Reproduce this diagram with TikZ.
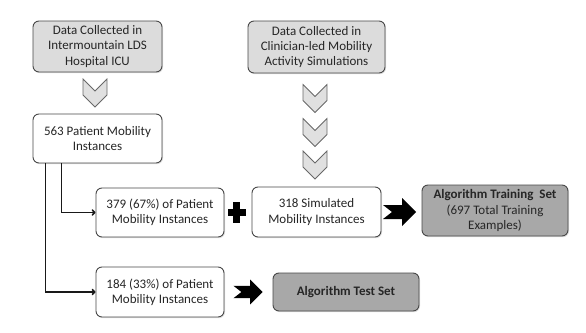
\documentclass[tikz,border=0pt]{standalone}
\usepackage{fontspec}
\setmainfont{Carlito}
\usetikzlibrary{shadows,arrows.meta}
\definecolor{boxline}{HTML}{484848}
\definecolor{srcfill}{HTML}{DCDCDC}
\definecolor{outfill}{HTML}{A8A8A8}
\definecolor{chevfill}{HTML}{E0E0E0}
\definecolor{chevline}{HTML}{686868}
\tikzset{
  base/.style={draw=boxline, line width=0.9pt, rounded corners=6pt, align=center,
    font=\fontsize{13}{15.2}\selectfont, text=black!85, inner sep=2pt,
    drop shadow={opacity=0.25, shadow xshift=1pt, shadow yshift=-1.2pt}},
  srcbox/.style={base, fill=srcfill},
  plainbox/.style={base, fill=white},
  outbox/.style={base, fill=outfill},
  conn/.style={draw=black!90, line width=1.6pt, -{To[length=4pt,width=6.5pt]}},
  pics/chev/.style={code={
    \filldraw[fill=chevfill, draw=chevline, line width=0.8pt, line join=miter]
      (-12,-14) -- (0,-2) -- (12,-14) -- (12,2) -- (0,14) -- (-12,2) -- cycle;}},
  pics/blkarrow/.style={code={
    \fill[black] (-16.5,-7) -- (2.5,-7) -- (2.5,-14) -- (16.5,0) -- (2.5,14)
      -- (2.5,7) -- (-16.5,7) -- (-7.5,0) -- cycle;}},
  pics/plussign/.style={code={
    \fill[black] (-9,-3.5) rectangle (9,3.5);
    \fill[black] (-3.5,-10.5) rectangle (3.5,10.5);}}
}
\begin{document}
\begin{tikzpicture}[x=1pt,y=-1pt]
\useasboundingbox (0,0) rectangle (586,332);

\node[srcbox, minimum width=129pt, minimum height=51pt] (src1) at (97.5,46.5)
  {Data Collected in\\Intermountain LDS\\Hospital ICU};
\node[srcbox, minimum width=137pt, minimum height=52pt] (src2) at (316.5,47)
  {Data Collected in\\Clinician-led Mobility\\Activity Simulations};
\node[plainbox, minimum width=129pt, minimum height=49pt] (n563) at (97.5,138.5)
  {563 Patient Mobility\\Instances};
\node[plainbox, minimum width=128pt, minimum height=49pt] (n379) at (160,212.5)
  {379 (67\%) of Patient\\Mobility Instances};
\node[plainbox, minimum width=129pt, minimum height=50pt] (n318) at (316.5,212)
  {318 Simulated\\Mobility Instances};
\node[outbox, minimum width=146pt, minimum height=51pt] (train) at (495,210.5)
  {\textbf{Algorithm Training\ \ Set}\\(697 Total Training\\Examples)};
\node[plainbox, minimum width=128pt, minimum height=50pt] (n184) at (160,292)
  {184 (33\%) of Patient\\Mobility Instances};
\node[outbox, minimum width=146pt, minimum height=38pt] (test) at (346,292)
  {\textbf{Algorithm Test Set}};

\pic at (95,93) {chev};
\pic at (315,98.5) {chev};
\pic at (315,132.5) {chev};
\pic at (315,165) {chev};

\pic at (236.5,212.5) {plussign};
\pic at (399.5,212) {blkarrow};
\pic[scale=0.88] at (248,292) {blkarrow};

\draw[conn] (n563.south west) ++(13,0) |- (n184.west);
\draw[conn] (n563.south west) ++(29,0) |- (n379.west);
\end{tikzpicture}
\end{document}
